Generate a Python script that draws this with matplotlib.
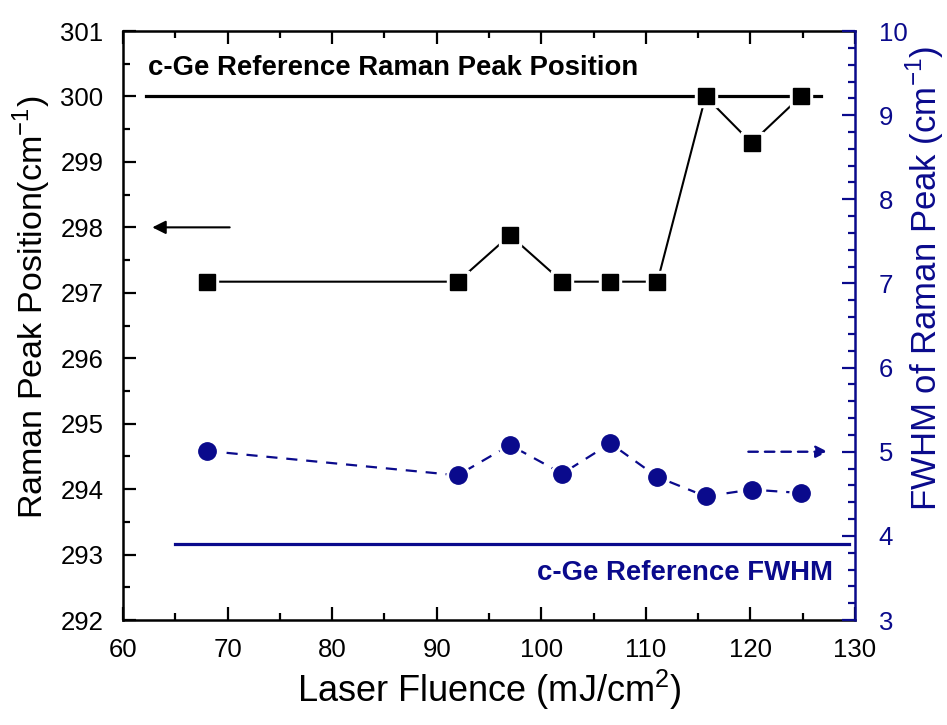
import matplotlib
matplotlib.use("Agg")
import matplotlib.pyplot as plt
from matplotlib.ticker import MultipleLocator

plt.rcParams['font.family'] = ['Liberation Sans', 'DejaVu Sans']

NAVY = '#0a0a8c'

# Laser fluence (mJ/cm^2)
fluence = [68, 92, 97, 102, 106.6, 111.1, 115.7, 120.1, 124.8]
# Raman peak position (cm^-1)
peak_pos = [297.17, 297.17, 297.88, 297.17, 297.17, 297.17, 300.0, 299.29, 300.0]
# FWHM of the Raman peak (cm^-1)
fwhm = [5.01, 4.72, 5.08, 4.74, 5.10, 4.70, 4.47, 4.55, 4.51]

# crystalline Ge references
ref_peak = 300.0
ref_fwhm = 3.9
ref_peak_span = [62.2, 126.7]
ref_fwhm_span = [65.0, 129.4]

fig = plt.figure(figsize=(9.47, 7.25), dpi=100)
ax = fig.add_axes([0.1299, 0.1448, 0.7730, 0.8124])
ax2 = ax.twinx()

# --- left axis: peak position ---
ax.plot(ref_peak_span, [ref_peak, ref_peak], color='black', lw=2.3, zorder=2)
ax.plot(fluence, peak_pos, color='black', lw=1.5, zorder=3)
ax.plot(fluence, peak_pos, ls='none', marker='s', ms=16.5, mfc='white', mec='white', zorder=4)
ax.plot(fluence, peak_pos, ls='none', marker='s', ms=12, mfc='black', mec='black', zorder=5)

ax.set_xlim(60, 130)
ax.set_ylim(292, 301)
ax.xaxis.set_major_locator(MultipleLocator(10))
ax.xaxis.set_minor_locator(MultipleLocator(5))
ax.yaxis.set_major_locator(MultipleLocator(1))
ax.yaxis.set_minor_locator(MultipleLocator(0.5))
ax.tick_params(which='both', direction='in', top=True, right=False, width=1.6,
               labelsize=18.5)
ax.tick_params(axis='y', pad=14)
ax.tick_params(axis='x', pad=13)
ax.tick_params(which='major', length=9.5)
ax.tick_params(which='minor', length=5)
for side in ['left', 'bottom', 'top']:
    ax.spines[side].set_linewidth(1.8)
ax.spines['right'].set_visible(False)

ax.set_xlabel('Laser Fluence (mJ/cm$^\\mathregular{2}$)', fontsize=26)
ax.xaxis.label.set_va('center')
ax.xaxis.set_label_coords(0.5, -0.118)
ax.set_ylabel('Raman Peak Position(cm$^\\mathregular{-1}$)', fontsize=24.5)
ax.yaxis.label.set_va('center')
ax.yaxis.set_label_coords(-0.124, 0.531)

ax.text(62.4, 300.44, 'c-Ge Reference Raman Peak Position', fontsize=19.8,
        fontweight='bold', ha='left', va='center', color='black')
ax.annotate('', xy=(62.8, 298.0), xytext=(70.2, 298.0),
            arrowprops=dict(arrowstyle='-|>', color='black', lw=1.5,
                            mutation_scale=20, shrinkA=0, shrinkB=0))

# --- right axis: FWHM ---
ax2.plot(ref_fwhm_span, [ref_fwhm, ref_fwhm], color=NAVY, lw=2.3, zorder=2)
ax2.plot(fluence, fwhm, color=NAVY, lw=1.6, dashes=(5, 4), zorder=3)
ax2.plot(fluence, fwhm, ls='none', marker='o', ms=16.5, mfc='white', mec='white', zorder=4)
ax2.plot(fluence, fwhm, ls='none', marker='o', ms=12.5, mfc=NAVY, mec=NAVY, zorder=5)

ax2.set_ylim(3, 10)
ax2.yaxis.set_major_locator(MultipleLocator(1))
ax2.yaxis.set_minor_locator(MultipleLocator(0.2))
ax2.tick_params(which='both', direction='in', colors=NAVY, width=1.6,
                labelsize=18.5, pad=17)
ax2.tick_params(which='major', length=9.5)
ax2.tick_params(which='minor', length=5)
ax2.spines['right'].set_color(NAVY)
ax2.spines['right'].set_linewidth(1.8)
for side in ['left', 'bottom', 'top']:
    ax2.spines[side].set_visible(False)
ax2.set_ylabel('FWHM of Raman Peak (cm$^\\mathregular{-1}$)', fontsize=25, color=NAVY)
ax2.yaxis.label.set_va('center')
ax2.yaxis.set_label_coords(1.095, 0.58)

ax2.text(127.9, 3.56, 'c-Ge Reference FWHM', fontsize=19.8, fontweight='bold',
         ha='right', va='center', color=NAVY)
ax2.annotate('', xy=(127.4, 5.0), xytext=(119.8, 5.0),
             arrowprops=dict(arrowstyle='-|>', color=NAVY, lw=1.7, ls=(0, (4, 3)),
                             mutation_scale=18, shrinkA=0, shrinkB=0))

fig.savefig('out.png', dpi=100)
